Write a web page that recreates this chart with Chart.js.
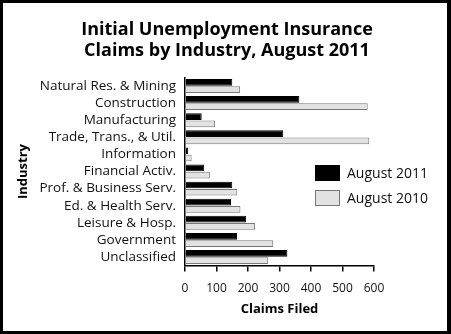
<!DOCTYPE html>
<html>
<head>
<meta charset="utf-8">
<script src="https://cdn.jsdelivr.net/npm/chart.js@4/dist/chart.umd.min.js"></script>
<style>
    html, body { margin: 0; padding: 0; background: #fff; }
    #wrap {
        position: relative;
        width: 451px; height: 334px;
        box-sizing: border-box;
        border-style: solid; border-color: #000;
        border-width: 3px 4px 3px 3px;
        font-family: 'Open Sans', 'Noto Sans', sans-serif;
    }
    #chart { position: absolute; left: 0; top: 0; }
    #legend { position: absolute; left: 312px; top: 157px; font-size: 14px; color: #111; }
    .item { display: flex; align-items: center; height: 25px; }
    .swatch { width: 25px; height: 16px; margin-right: 7px; box-sizing: border-box; }
</style>
</head>
<body>
<div id="wrap">
    <canvas id="chart" width="444" height="328"></canvas>
    <div id="legend">
        <div class="item"><span class="swatch" style="background:#000"></span>August 2011</div>
        <div class="item"><span class="swatch" style="background:#e2e2e2;border:1px solid #777"></span>August 2010</div>
    </div>
</div>
<script>
// --- Data ---
const industries = [
    'Natural Res. & Mining', 'Construction', 'Manufacturing', 'Trade, Trans., & Util.',
    'Information', 'Financial Activ.', 'Prof. & Business Serv.', 'Ed. & Health Serv.',
    'Leisure & Hosp.', 'Government', 'Unclassified'
];
const aug2011 = [150, 363, 53, 312, 10, 61, 150, 146, 194, 165, 325];
const aug2010 = [175, 580, 95, 585, 21, 79, 166, 176, 222, 280, 264];
const xTicks = [0, 100, 200, 300, 400, 500, 600];

const font = 'Open Sans';

new Chart(document.getElementById('chart'), {
    type: 'bar',
    data: {
        labels: industries,
        datasets: [
            { label: 'August 2011', data: aug2011, backgroundColor: '#000', borderColor: '#000', borderWidth: 1 },
            { label: 'August 2010', data: aug2010, backgroundColor: '#e2e2e2', borderColor: '#777', borderWidth: 1 }
        ]
    },
    options: {
        indexAxis: 'y',
        responsive: false,
        animation: false,
        categoryPercentage: 0.85,
        barPercentage: 0.92,
        layout: { padding: { left: 4, right: 0, top: 4, bottom: 15 } },
        plugins: {
            legend: { display: false },
            tooltip: { enabled: false },
            title: {
                display: true,
                text: ['Initial Unemployment Insurance', 'Claims by Industry, August 2011'],
                color: '#000',
                font: { family: font, size: 18, weight: 'bold', lineHeight: 1.15 },
                padding: { top: 13, bottom: 16 }
            }
        },
        scales: {
            x: {
                min: 0, max: 600,
                afterBuildTicks: s => { s.ticks = xTicks.map(v => ({ value: v })); },
                grid: { display: true, drawOnChartArea: false, drawTicks: true, tickLength: 6, color: '#000', lineWidth: 1.5 },
                border: { color: '#000', width: 1.5 },
                ticks: { color: '#111', font: { family: font, size: 12 }, padding: 10 },
                title: { display: true, text: 'Claims Filed', color: '#000', font: { family: font, size: 13, weight: 'bold', lineHeight: 1 }, padding: { top: -3, bottom: 0 } }
            },
            y: {
                grid: { display: false },
                border: { color: '#000', width: 1.5 },
                ticks: { color: '#111', font: { family: font, size: 13.5 }, padding: 1, autoSkip: false },
                title: { display: true, text: 'Industry', color: '#000', font: { family: font, size: 13, weight: 'bold' }, padding: { top: 8, bottom: 4 } },
                afterFit: s => { s.width = 178; }
            },
            // empty right-hand axis, only to leave room for the legend
            y2: {
                position: 'right',
                display: true,
                grid: { display: false },
                border: { display: false },
                ticks: { display: false },
                afterFit: s => { s.width = 73; }
            }
        }
    }
});
</script>
</body>
</html>
